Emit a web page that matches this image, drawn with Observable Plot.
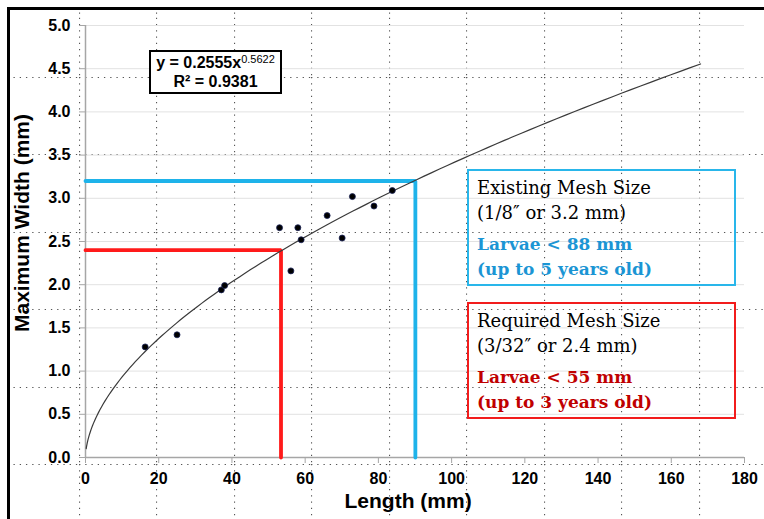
<!DOCTYPE html>
<html>
<head>
<meta charset="utf-8">
<script src="https://cdn.jsdelivr.net/npm/d3@7"></script>
<script src="https://cdn.jsdelivr.net/npm/@observablehq/plot@0.6"></script>
<style>
  html, body { margin: 0; padding: 0; background: #fff; }
  #wrap { position: relative; width: 764px; height: 519px; overflow: hidden; background: #fff; }
  #dots { position: absolute; left: 10px; top: 10px; right: 0; bottom: 0; }
  #wrap svg { position: absolute; left: 0; top: 0; }
  #border { position: absolute; left: 7px; top: 7px; right: -10px; bottom: -10px; border-top: 3px solid #000; border-left: 3px solid #000; }
  .eq { position: absolute; left: 149px; top: 50px; width: 133px; height: 44px; box-sizing: border-box; border: 2px solid #000; background: #fff;
        font: bold 16px "Liberation Sans", Arial, sans-serif; text-align: center; line-height: 19px; padding-top: 1px; color: #000; }
  .eq sup { font-weight: normal; font-size: 11px; line-height: 0; vertical-align: 0.45em; }
  .note { position: absolute; left: 467px; width: 269px; height: 117px; box-sizing: border-box; padding: 4px 0 0 8px;
          font-family: "DejaVu Serif", serif; font-size: 18px; color: #000; }
  .note div { line-height: 25px; white-space: nowrap; }
  .note .gap { margin-top: 7px; }
  .note .b { font-weight: bold; font-size: 17px; }
  .xt { position: absolute; font: bold 21px "Liberation Sans", Arial, sans-serif; color: #000; white-space: nowrap; }
</style>
</head>
<body>
<div id="wrap">
  <div id="dots"></div>
  <div id="chart"></div>
  <div id="border"></div>
  <div class="eq"><div>y = 0.2555x<sup>0.5622</sup></div><div>R² = 0.9381</div></div>
  <div class="note" style="top:169px; border:2px solid #29b6ea;">
    <div>Existing Mesh Size</div>
    <div>(1/8″ or 3.2 mm)</div>
    <div class="gap b" style="color:#1b95d4">Larvae &lt; 88 mm</div>
    <div class="b" style="color:#1b95d4">(up to 5 years old)</div>
  </div>
  <div class="note" style="top:302px; border:2px solid #f21c1c;">
    <div>Required Mesh Size</div>
    <div>(3/32″ or 2.4 mm)</div>
    <div class="gap b" style="color:#c00000">Larvae &lt; 55 mm</div>
    <div class="b" style="color:#c00000">(up to 3 years old)</div>
  </div>
  <div class="xt" id="xlabel">Length (mm)</div>
  <div class="xt" id="ylabel">Maximum Width (mm)</div>
</div>
<script>
// ---- data ----
const xTicks = [0, 20, 40, 60, 80, 100, 120, 140, 160, 180];
const yTicks = [0, 0.5, 1.0, 1.5, 2.0, 2.5, 3.0, 3.5, 4.0, 4.5, 5.0];
const lengths = [16.3, 25.0, 37.1, 38.0, 53.0, 56.1, 58.0, 58.9, 66.0, 70.1, 72.9, 78.8, 83.8];
const widths  = [1.28, 1.42, 1.94, 1.99, 2.66, 2.16, 2.66, 2.52, 2.80, 2.54, 3.02, 2.91, 3.09];
const fitCoef = [0.2555, 0.5622];      // y = a * x^b (trendline shown on chart)
const fitRange = [0.2, 168];
const meshNames = ["Required", "Existing"];
const meshSizes = [2.4, 3.2];          // mm
const larvaeCutoff = [53.4, 90.1];     // mm length where fit reaches mesh size
const meshColors = ["#ff1a1a", "#1eb3ea"];

// ---- tables ----
const points = lengths.map((x, i) => ({x, y: widths[i]}));
const fitXs = d3.range(0, 121).map(i => fitRange[0] + (fitRange[1] - fitRange[0]) * Math.pow(i / 120, 2));
const fit = fitXs.map(x => ({x, y: fitCoef[0] * Math.pow(x, fitCoef[1])}));
const meshLines = meshNames.flatMap((m, i) => [
  {mesh: m, x: 0, y: meshSizes[i]},
  {mesh: m, x: larvaeCutoff[i], y: meshSizes[i]},
  {mesh: m, x: larvaeCutoff[i], y: 0}
]);

const chart = Plot.plot({
  width: 764, height: 519,
  marginLeft: 85, marginRight: 20, marginTop: 25, marginBottom: 62,
  x: {domain: [0, 180]},
  y: {domain: [0, 5]},
  color: {domain: meshNames, range: meshColors},
  style: {background: "transparent", fontFamily: "'Liberation Sans', Arial, sans-serif", overflow: "visible"},
  marks: [
    Plot.gridY(yTicks.filter(d => d > 0), {stroke: "#e2e2e2", strokeOpacity: 1}),
    Plot.axisY({ticks: yTicks, tickFormat: d => d.toFixed(1), tickSize: 6, tickPadding: 9,
      stroke: "#a6a6a6", fill: "#000", fontSize: 16, fontWeight: "bold", label: null}),
    Plot.axisX({ticks: xTicks, tickSize: 6, tickPadding: 9,
      stroke: "#a6a6a6", fill: "#000", fontSize: 16, fontWeight: "bold", label: null}),
    Plot.ruleX([0], {stroke: "#a6a6a6", strokeWidth: 1.5}),
    Plot.ruleY([0], {stroke: "#a6a6a6", strokeWidth: 1.5}),
    Plot.line(meshLines, {x: "x", y: "y", z: "mesh", stroke: "mesh", strokeWidth: 3.8, strokeLinejoin: "miter"}),
    Plot.line(fit, {x: "x", y: "y", stroke: "#3a3a3a", strokeWidth: 1.2}),
    Plot.dot(points, {x: "x", y: "y", r: 3, fill: "#000", stroke: "#1c2458", strokeWidth: 0.8})
  ]
});
document.getElementById("chart").appendChild(chart);

// dotted page-guide overlay (background decoration)
const tile = "<svg xmlns='http://www.w3.org/2000/svg' width='77.5' height='77.4'>" +
  "<line x1='0.5' y1='0' x2='0.5' y2='77.4' stroke='%23555' stroke-width='1.2' stroke-dasharray='1.3 4.9'/>" +
  "<line x1='0' y1='0.5' x2='77.5' y2='0.5' stroke='%23555' stroke-width='1.2' stroke-dasharray='1.3 4.9'/></svg>";
const dots = document.getElementById("dots");
dots.style.backgroundImage = "url(\"data:image/svg+xml;utf8," + tile + "\")";
dots.style.backgroundSize = "77.5px 77.4px";
dots.style.backgroundPosition = "69px 67px";

// axis titles
const xl = document.getElementById("xlabel");
xl.style.left = (408 - xl.offsetWidth / 2) + "px";
xl.style.top = (508 - 19) + "px";
const yl = document.getElementById("ylabel");
const w = yl.offsetWidth, h = yl.offsetHeight;
yl.style.left = (22 - w / 2) + "px";
yl.style.top = (223 - h / 2) + "px";
yl.style.transform = "rotate(-90deg)";
</script>
</body>
</html>
